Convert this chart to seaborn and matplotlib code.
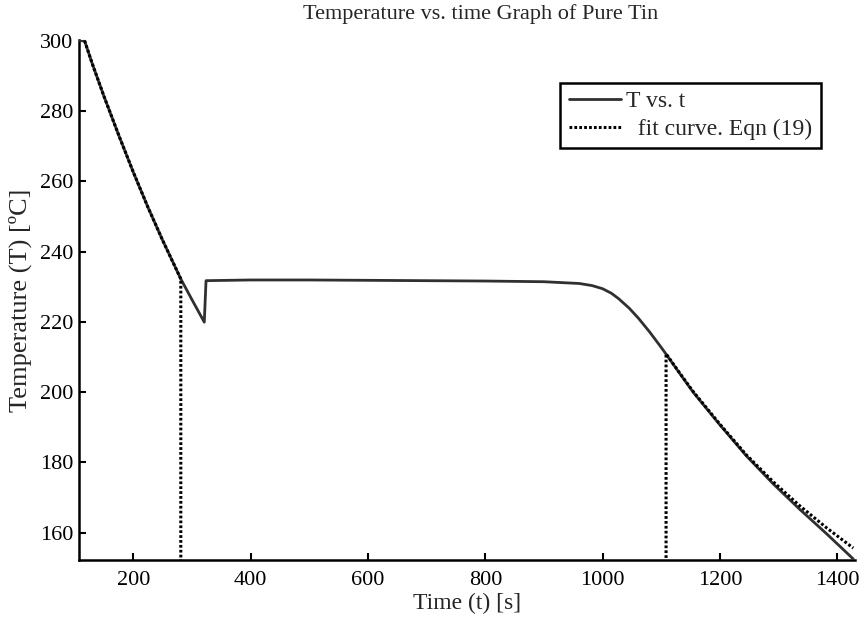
import numpy as np
import pandas as pd
import matplotlib
matplotlib.use("Agg")
import matplotlib.pyplot as plt
import seaborn as sns

time_s = [108, 117, 130, 150, 175, 200, 225, 250, 281, 300, 321, 324,
          400, 500, 600, 700, 800, 900, 960, 982, 1000, 1015, 1027, 1045, 1061,
          1080, 1098, 1108, 1130, 1154, 1200, 1245, 1291, 1336, 1382, 1427]
temp_c = [300.0, 300.0, 293.5, 284.2, 273.2, 262.6, 252.6, 243.2, 232.2, 226.3, 219.9, 231.7,
          231.9, 231.9, 231.8, 231.7, 231.6, 231.4, 230.9, 230.3, 229.4, 228.1, 226.6, 223.9, 221.0,
          217.1, 213.1, 210.8, 205.6, 200.0, 190.6, 181.8, 173.8, 166.6, 159.6, 152.5]

# Fit curve, Eqn (19): liquid part and solid part (with drop lines to the axis)
fit1_t = [117, 130, 150, 175, 200, 225, 250, 281, 281]
fit1_T = [300.0, 293.5, 284.2, 273.2, 262.6, 252.6, 243.2, 232.2, 150.0]
fit2_t = [1108, 1108, 1130, 1154, 1200, 1245, 1291, 1336, 1382, 1427]
fit2_T = [150.0, 210.9, 205.7, 200.2, 190.8, 182.1, 174.4, 167.6, 161.3, 155.6]

x_ticks = [200, 400, 600, 800, 1000, 1200, 1400]
y_ticks = [160, 180, 200, 220, 240, 260, 280, 300]

sns.set_style("ticks")
plt.rcParams['font.family'] = ['Liberation Serif', 'DejaVu Serif']

fig = plt.figure(figsize=(8.64, 6.24), dpi=100)
ax = fig.add_axes([79/864, 64/624, 776/864, 520/624])

meas = pd.DataFrame({"t": time_s, "T": temp_c})
f1 = pd.DataFrame({"t": fit1_t, "T": fit1_T})
f2 = pd.DataFrame({"t": fit2_t, "T": fit2_T})

kw = dict(sort=False, estimator=None, errorbar=None, ax=ax)
sns.lineplot(data=meas, x="t", y="T", color="#303030", lw=2.0,
             label="T vs. t", zorder=3, **kw)
sns.lineplot(data=f1, x="t", y="T", color="black", lw=2.2,
             linestyle=(0, (0.9, 0.7)), label="  fit curve. Eqn (19)", zorder=4, **kw)
sns.lineplot(data=f2, x="t", y="T", color="black", lw=2.2,
             linestyle=(0, (0.9, 0.7)), label="_nolegend_", zorder=4, **kw)

ax.set_xlim(107.5, 1430)
ax.set_ylim(152.2, 300.2)
ax.set_xticks(x_ticks)
ax.set_yticks(y_ticks)
ax.tick_params(direction="in", length=5, width=1.5, labelsize=16, colors="black")
ax.tick_params(axis="x", pad=8)
ax.tick_params(axis="y", pad=4)
for s in ["top", "right"]:
    ax.spines[s].set_visible(False)
for s in ["left", "bottom"]:
    ax.spines[s].set_linewidth(1.8)
    ax.spines[s].set_color("black")

ax.set_xlabel("Time (t) [s]", fontsize=17, labelpad=2)
ax.set_ylabel("Temperature (T) [ºC]", fontsize=19, labelpad=6)
ax.set_title("Temperature vs. time Graph of Pure Tin", fontsize=16, pad=15, x=0.518)

leg = ax.legend(loc="upper right", bbox_to_anchor=(0.956, 0.918), fontsize=17,
                frameon=True, fancybox=False, edgecolor="black", framealpha=1,
                handlelength=2.2, handletextpad=0.25, borderpad=0.35, labelspacing=0.25,
                borderaxespad=0)
leg.get_frame().set_linewidth(1.8)

fig.savefig("out.png", dpi=100)
